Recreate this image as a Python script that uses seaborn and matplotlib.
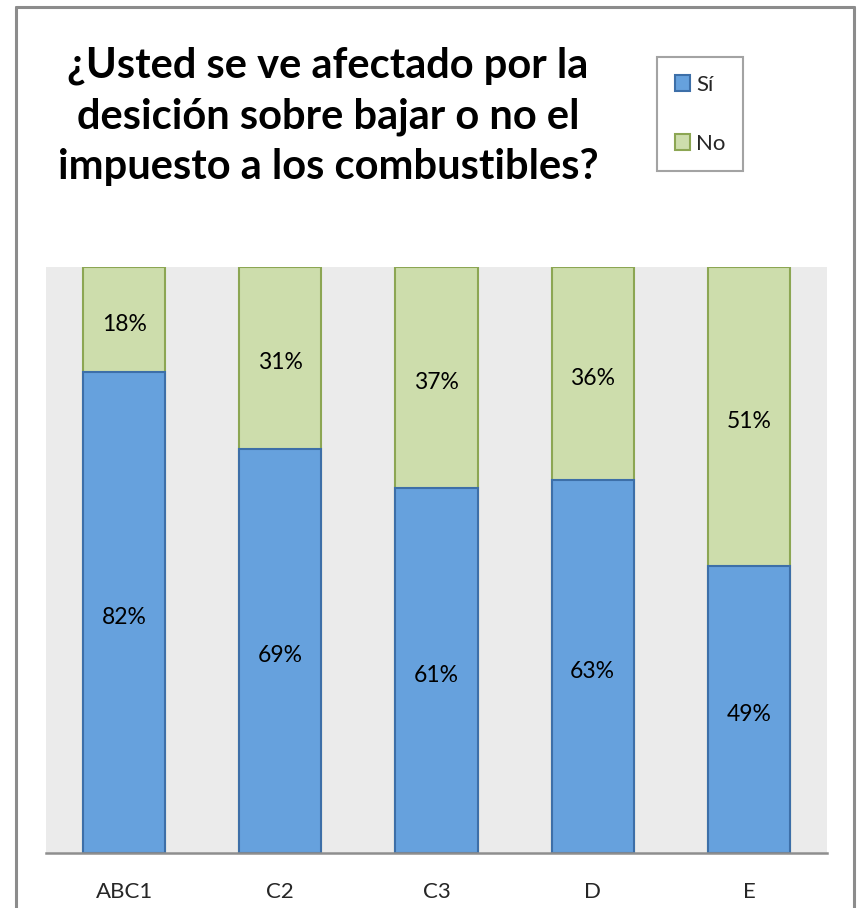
import matplotlib
matplotlib.use("Agg")
import matplotlib.pyplot as plt
import seaborn as sns
import pandas as pd
from matplotlib.patches import Rectangle
from matplotlib.lines import Line2D

categories = ["ABC1", "C2", "C3", "D", "E"]
si_values = [82, 69, 61, 63, 49]
no_values = [18, 31, 37, 36, 51]
title = "¿Usted se ve afectado por la\ndesición sobre bajar o no el\nimpuesto a los combustibles?"

sns.set_theme(style="white")
plt.rcParams["font.family"] = ["Lato", "DejaVu Sans"]

totals = [s + n for s, n in zip(si_values, no_values)]
df = pd.DataFrame({
    "cat": categories,
    "si": [100 * s / t for s, t in zip(si_values, totals)],
    "all": [100.0 for _ in totals],
})

blue, blue_edge = "#66A1DD", "#3D6FA8"
green, green_edge = "#CDDDAC", "#8CA653"

fig = plt.figure(figsize=(8.58, 9.08), dpi=100)
ax = fig.add_axes([46 / 858, 1 - 853 / 908, (827 - 46) / 858, (853 - 267) / 908])
ax.set_facecolor("#EBEBEB")

sns.barplot(data=df, x="cat", y="all", color=green, width=0.525, ax=ax,
            edgecolor=green_edge, linewidth=1.5, saturation=1)
sns.barplot(data=df, x="cat", y="si", color=blue, width=0.525, ax=ax,
            edgecolor=blue_edge, linewidth=1.5, saturation=1)

for i, (s, n) in enumerate(zip(si_values, no_values)):
    sh = df["si"][i]
    ax.text(i, sh / 2 - 0.8, f"{s}%", ha="center", va="center", fontsize=16.5, color="black")
    ax.text(i, sh + (100 - sh) / 2 - 0.8, f"{n}%", ha="center", va="center", fontsize=16.5, color="black")

ax.set_ylim(0, 100)
ax.set_xlim(-0.5, 4.5)
ax.set_xlabel("")
ax.set_ylabel("")
ax.set_yticks([])
ax.tick_params(axis="x", length=0, pad=21, labelsize=16)
for sp in ["top", "left", "right"]:
    ax.spines[sp].set_visible(False)
ax.spines["bottom"].set_color("#8E8E8E")
ax.spines["bottom"].set_linewidth(1.8)

# outer frame
fc = "#8C8C8C"
fig.add_artist(Line2D([16 / 858, 16 / 858], [-0.01, 1 - 7 / 908], transform=fig.transFigure, color=fc, lw=2.2))
fig.add_artist(Line2D([854 / 858, 854 / 858], [-0.01, 1 - 7 / 908], transform=fig.transFigure, color=fc, lw=2.2))
fig.add_artist(Line2D([16 / 858, 854 / 858], [1 - 7 / 908, 1 - 7 / 908], transform=fig.transFigure, color=fc, lw=2.2))

fig.text(328 / 858, 1 - 116 / 908, title, ha="center", va="center", fontsize=30,
         fontweight="bold", linespacing=1.4, color="black")

handles = [Rectangle((0, 0), 1, 1, facecolor=blue, edgecolor=blue_edge, lw=1.5),
           Rectangle((0, 0), 1, 1, facecolor=green, edgecolor=green_edge, lw=1.5)]
leg = fig.legend(handles, ["Sí", "No"], loc="upper left",
                 bbox_to_anchor=(657 / 858, 1 - 57 / 908), bbox_transform=fig.transFigure,
                 fontsize=16, frameon=True, fancybox=False, handlelength=0.7, handleheight=0.7,
                 handletextpad=0.25, labelspacing=1.75, borderpad=0.8, borderaxespad=0)
leg.get_frame().set_edgecolor("#8C8C8C")
leg.get_frame().set_linewidth(1.5)

fig.savefig("out.png", dpi=100)
